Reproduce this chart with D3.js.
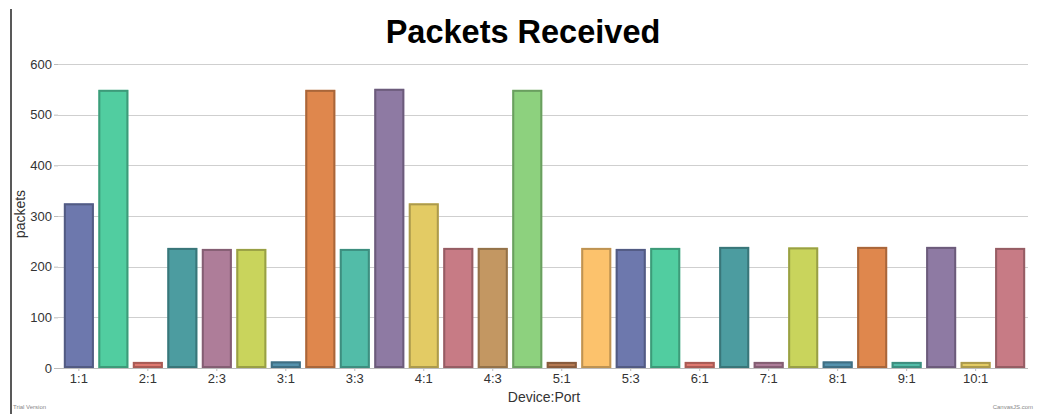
<!DOCTYPE html>
<html>
<head>
<meta charset="utf-8">
<script src="https://cdn.jsdelivr.net/npm/d3@7"></script>
<style>
  html, body { margin: 0; padding: 0; background: #fff; }
  svg { display: block; }
</style>
</head>
<body>
<svg id="chart" width="1048" height="414"></svg>
<script>
const categories = ["1:1","1:2","2:1","2:2","2:3","2:4","3:1","3:2","3:3","3:4","4:1","4:2","4:3","4:4",
  "5:1","5:2","5:3","5:4","6:1","6:2","7:1","7:2","8:1","8:2","9:1","9:2","10:1","10:2"];
const packets = [325, 549, 12, 237, 235, 235, 13, 549, 235, 551, 325, 237, 237, 549,
  12, 237, 235, 237, 12, 239, 12, 238, 13, 239, 12, 239, 12, 237];
const yTicks = [0, 100, 200, 300, 400, 500, 600];
const palette = ["#6D78AD","#51CDA0","#DF7970","#4C9CA0","#AE7D99","#C9D45C","#5592AD","#DF874D",
  "#52BCA8","#8E7AA3","#E3CB64","#C77B85","#C39762","#8DD17E","#B57952","#FCC26C"];
const titleText = "Packets Received";
const xTitle = "Device:Port";
const yTitle = "packets";

const svg = d3.select("#chart");
const font = "'Liberation Sans', Arial, Helvetica, sans-serif";

const plotLeft = 58, plotRight = 1028, plotTop = 64, plotBottom = 368;

const x = d3.scaleBand().domain(categories).range([plotLeft, 1031]).paddingInner(0.13).paddingOuter(0.17);
const y = d3.scaleLinear().domain([0, 600]).range([plotBottom, plotTop]);

// left border line
svg.append("line").attr("x1", 11).attr("x2", 11).attr("y1", 9).attr("y2", 414)
  .attr("stroke", "#222").attr("stroke-width", 1.5);

// title
svg.append("text").attr("x", 523).attr("y", 43).attr("text-anchor", "middle")
  .attr("font-family", font).attr("font-weight", "bold").attr("font-size", 32.5)
  .attr("fill", "#000").text(titleText);

// grid
svg.append("g").selectAll("line").data(yTicks.filter(d => d > 0)).join("line")
  .attr("x1", plotLeft).attr("x2", plotRight)
  .attr("y1", d => Math.round(y(d)) + 0.5).attr("y2", d => Math.round(y(d)) + 0.5)
  .attr("stroke", "#cfcfcf").attr("stroke-width", 1.2);

// y axis
const yAxis = d3.axisLeft(y).tickValues(yTicks).tickSize(4).tickPadding(2).tickFormat(d3.format("d"));
const gy = svg.append("g").attr("transform", `translate(${plotLeft},0)`).call(yAxis);
gy.select(".domain").remove();
gy.selectAll(".tick line").attr("stroke", "#bbb");
gy.selectAll("text").attr("font-family", font).attr("font-size", 13).attr("fill", "#333");

// bars
const bars = svg.append("g").selectAll("g").data(categories).join("g");
bars.append("rect")
  .attr("x", d => x(d)).attr("width", x.bandwidth())
  .attr("y", (d, i) => y(packets[i])).attr("height", (d, i) => plotBottom - y(packets[i]))
  .attr("fill", (d, i) => palette[i % palette.length]);
bars.append("rect")
  .attr("x", d => x(d) + 1).attr("width", x.bandwidth() - 2)
  .attr("y", (d, i) => y(packets[i]) + 1).attr("height", (d, i) => Math.max(0, plotBottom - y(packets[i]) - 2))
  .attr("fill", "none")
  .attr("stroke", (d, i) => d3.color(palette[i % palette.length]).darker(1.1))
  .attr("stroke-opacity", 0.75).attr("stroke-width", 2);

// x axis
const xAxis = d3.axisBottom(x).tickValues(categories.filter((d, i) => i % 2 === 0))
  .tickSize(3).tickPadding(3);
const gx = svg.append("g").attr("transform", `translate(0,${plotBottom})`).call(xAxis);
gx.select(".domain").attr("d", `M${plotLeft},0.5H${plotRight}`).attr("stroke", "#bbb");
gx.selectAll(".tick line").attr("stroke", "#bbb");
gx.selectAll("text").attr("font-family", font).attr("font-size", 13).attr("fill", "#333");

// axis titles
svg.append("text").attr("x", 544).attr("y", 402).attr("text-anchor", "middle")
  .attr("font-family", font).attr("font-size", 14).attr("fill", "#333").text(xTitle);
svg.append("text").attr("transform", "translate(25,214) rotate(-90)").attr("text-anchor", "middle")
  .attr("font-family", font).attr("font-size", 14).attr("fill", "#333").text(yTitle);

// credits
svg.append("text").attr("x", 13).attr("y", 409).attr("font-family", font).attr("font-size", 6)
  .attr("fill", "#888").text("Trial Version");
svg.append("text").attr("x", 1033).attr("y", 409).attr("text-anchor", "end").attr("font-family", font)
  .attr("font-size", 6).attr("fill", "#888").text("CanvasJS.com");
</script>
</body>
</html>
